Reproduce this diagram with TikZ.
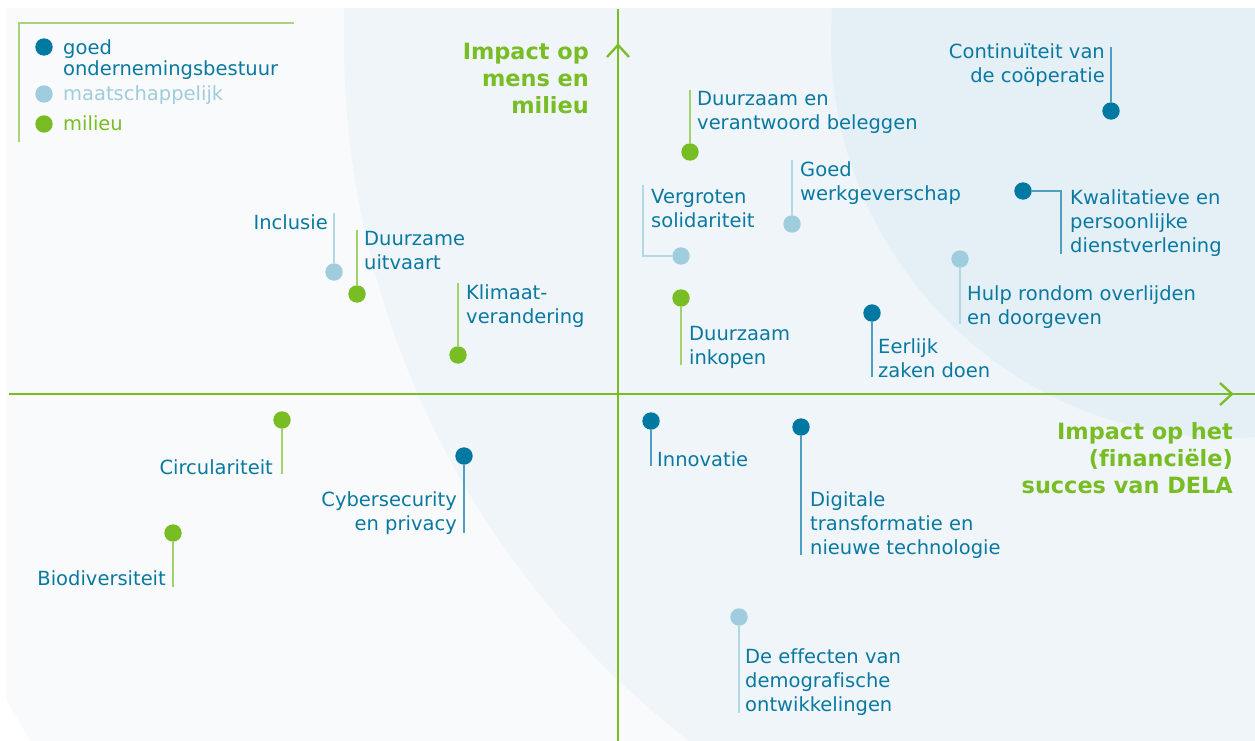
\documentclass[tikz,border=0pt]{standalone}
\usepackage{fontspec}
\setmainfont{DejaVu Sans}[Ligatures=NoCommon]
\definecolor{dblue}{HTML}{0079A2}
\definecolor{lblue}{HTML}{9FCDDD}
\definecolor{lgreen}{HTML}{79BD24}
\definecolor{txt}{HTML}{0A79A1}
\definecolor{panel}{HTML}{F8FAFC}
\definecolor{circA}{HTML}{EFF5F9}
\definecolor{circB}{HTML}{E5F0F6}
\definecolor{dbline}{HTML}{4F9FC0}
\definecolor{lbline}{HTML}{B3D8E5}
\definecolor{gline}{HTML}{A3D16A}
\definecolor{legline}{HTML}{A9D37A}
\tikzset{
  dotD/.style={circle, fill=dblue, minimum size=17.4pt, inner sep=0pt},
  dotL/.style={circle, fill=lblue, minimum size=17.4pt, inner sep=0pt},
  dotG/.style={circle, fill=lgreen, minimum size=17.4pt, inner sep=0pt},
  ldD/.style={draw=dbline, line width=1.3pt},
  ldL/.style={draw=lbline, line width=1.3pt},
  ldG/.style={draw=gline, line width=1.3pt},
  lbl/.style={inner sep=0pt, text=txt, font=\fontsize{19.5}{24}\selectfont},
  lw/.style={lbl, anchor=north west, yshift=16.8pt, align=left},
  le/.style={lbl, anchor=north east, yshift=16.8pt, align=right},
  ttl/.style={inner sep=0pt, text=lgreen, font=\bfseries\fontsize{22.4}{27}\selectfont, anchor=north east, yshift=18.9pt, align=right},
  axisline/.style={draw=lgreen, line width=2.3pt},
  chev/.style={draw=lgreen, line width=2.3pt, line cap=butt, line join=miter},
}
\begin{document}
\begin{tikzpicture}[x=1pt,y=-1pt]
\useasboundingbox (0,0) rectangle (1255,741);
\fill[white] (0,0) rectangle (1255,741);
\begin{scope}
  \clip (6,9) rectangle (1255,741);
  \fill[panel] (1230,39) circle [radius=1390pt];
  \fill[circA] (1230,39) circle [radius=886pt];
  \fill[circB] (1230,39) circle [radius=399pt];
\end{scope}
% legend
\coordinate (lg1) at (294,23);
\coordinate (lg2) at (19,23);
\coordinate (lg3) at (19,142);
\draw[legline, line width=1.2pt] (lg1) -- (lg2) -- (lg3);
\node[dotD] (lgd1) at (44,47) {};
\node[dotL] (lgd2) at (44,94) {};
\node[dotG] (lgd3) at (44,124) {};
\node[inner sep=0pt, text=txt, font=\fontsize{19.5}{20}\selectfont, anchor=north west, yshift=14pt, align=left] (lgt1) at (63,53) {\strut goed\\ondernemingsbestuur};
\node[inner sep=0pt, text=lblue, font=\fontsize{19.5}{20}\selectfont, anchor=base west] (lgt2) at (63,101) {maatschappelijk};
\node[inner sep=0pt, text=lgreen, font=\fontsize{19.5}{20}\selectfont, anchor=base west] (lgt3) at (63,131) {milieu};
% axes
\coordinate (hx1) at (9,394);
\coordinate (hx2) at (1255,394);
\coordinate (vy1) at (618,9);
\coordinate (vy2) at (618,741);
\draw[axisline] (hx1) -- (hx2);
\draw[axisline] (vy1) -- (vy2);
\coordinate (ht) at (1232,394);
\draw[chev] ([shift={(-12,-11)}]ht) -- (ht) -- ([shift={(-12,11)}]ht);
\coordinate (vt) at (618,45);
\draw[chev] ([shift={(-11,12)}]vt) -- (vt) -- ([shift={(11,12)}]vt);
% titles
\node[ttl] (ty) at (589,59) {\strut Impact op\\mens en\\milieu};
\node[ttl] (tx) at (1233,439) {\strut Impact op het\\(financiële)\\succes van DELA};
% dots
\node[dotD] (c1) at (1111,111) {};
\node[dotD] (c2) at (1023,191) {};
\node[dotL] (c3) at (960,259) {};
\node[dotD] (c4) at (872,313) {};
\node[dotL] (c5) at (792,224) {};
\node[dotG] (c6) at (690,152) {};
\node[dotL] (c7) at (681,256) {};
\node[dotG] (c8) at (681,298) {};
\node[dotL] (c9) at (334,272) {};
\node[dotG] (c10) at (357,294) {};
\node[dotG] (c11) at (458,355) {};
\node[dotG] (c12) at (282,420) {};
\node[dotD] (c13) at (464,456) {};
\node[dotG] (c14) at (173,533) {};
\node[dotD] (c15) at (651,421) {};
\node[dotD] (c16) at (801,427) {};
\node[dotL] (c17) at (739,617) {};
% leader ends
\coordinate (e1) at (1111,47);
\coordinate (e2a) at (1061,191);
\coordinate (e2) at (1061,254);
\coordinate (e3) at (960,324);
\coordinate (e4) at (872,377);
\coordinate (e5) at (792,160);
\coordinate (e6) at (690,90);
\coordinate (e7a) at (643,256);
\coordinate (e7) at (643,185);
\coordinate (e8) at (681,365);
\coordinate (e9) at (334,213);
\coordinate (e10) at (357,230);
\coordinate (e11) at (458,283);
\coordinate (e12) at (282,474);
\coordinate (e13) at (464,533);
\coordinate (e14) at (173,587);
\coordinate (e15) at (651,466);
\coordinate (e16) at (801,555);
\coordinate (e17) at (739,713);
\draw[ldD] (c1) -- (e1);
\draw[ldD] (c2) -- (e2a) -- (e2);
\draw[ldL] (c3) -- (e3);
\draw[ldD] (c4) -- (e4);
\draw[ldL] (c5) -- (e5);
\draw[ldG] (c6) -- (e6);
\draw[ldL] (c7) -- (e7a) -- (e7);
\draw[ldG] (c8) -- (e8);
\draw[ldL] (c9) -- (e9);
\draw[ldG] (c10) -- (e10);
\draw[ldG] (c11) -- (e11);
\draw[ldG] (c12) -- (e12);
\draw[ldD] (c13) -- (e13);
\draw[ldG] (c14) -- (e14);
\draw[ldD] (c15) -- (e15);
\draw[ldD] (c16) -- (e16);
\draw[ldL] (c17) -- (e17);
% labels
\node[le] (t1) at (1105,58) {\strut Continuïteit van\\de coöperatie};
\node[lw] (t2) at (1070,204) {\strut Kwalitatieve en\\persoonlijke\\dienstverlening};
\node[lw] (t3) at (967,300) {\strut Hulp rondom overlijden\\en doorgeven};
\node[lw] (t4) at (878,353) {\strut Eerlijk\\zaken doen};
\node[lw] (t5) at (800,176) {\strut Goed\\werkgeverschap};
\node[lw] (t6) at (697,105) {\strut Duurzaam en\\verantwoord beleggen};
\node[lw] (t7) at (651,203) {\strut Vergroten\\solidariteit};
\node[lw] (t8) at (689,340) {\strut Duurzaam\\inkopen};
\node[le] (t9) at (328,229) {\strut Inclusie};
\node[lw] (t10) at (364,245) {\strut Duurzame\\uitvaart};
\node[lw] (t11) at (466,299) {\strut Klimaat-\\verandering};
\node[le] (t12) at (273,474) {\strut Circulariteit};
\node[le] (t13) at (457,506) {\strut Cybersecurity\\en privacy};
\node[le] (t14) at (166,585) {\strut Biodiversiteit};
\node[lw] (t15) at (657,466) {\strut Innovatie};
\node[lw] (t16) at (810,506) {\strut Digitale\\transformatie en\\nieuwe technologie};
\node[lw] (t17) at (745,663) {\strut De effecten van\\demografische\\ontwikkelingen};
\end{tikzpicture}
\end{document}
